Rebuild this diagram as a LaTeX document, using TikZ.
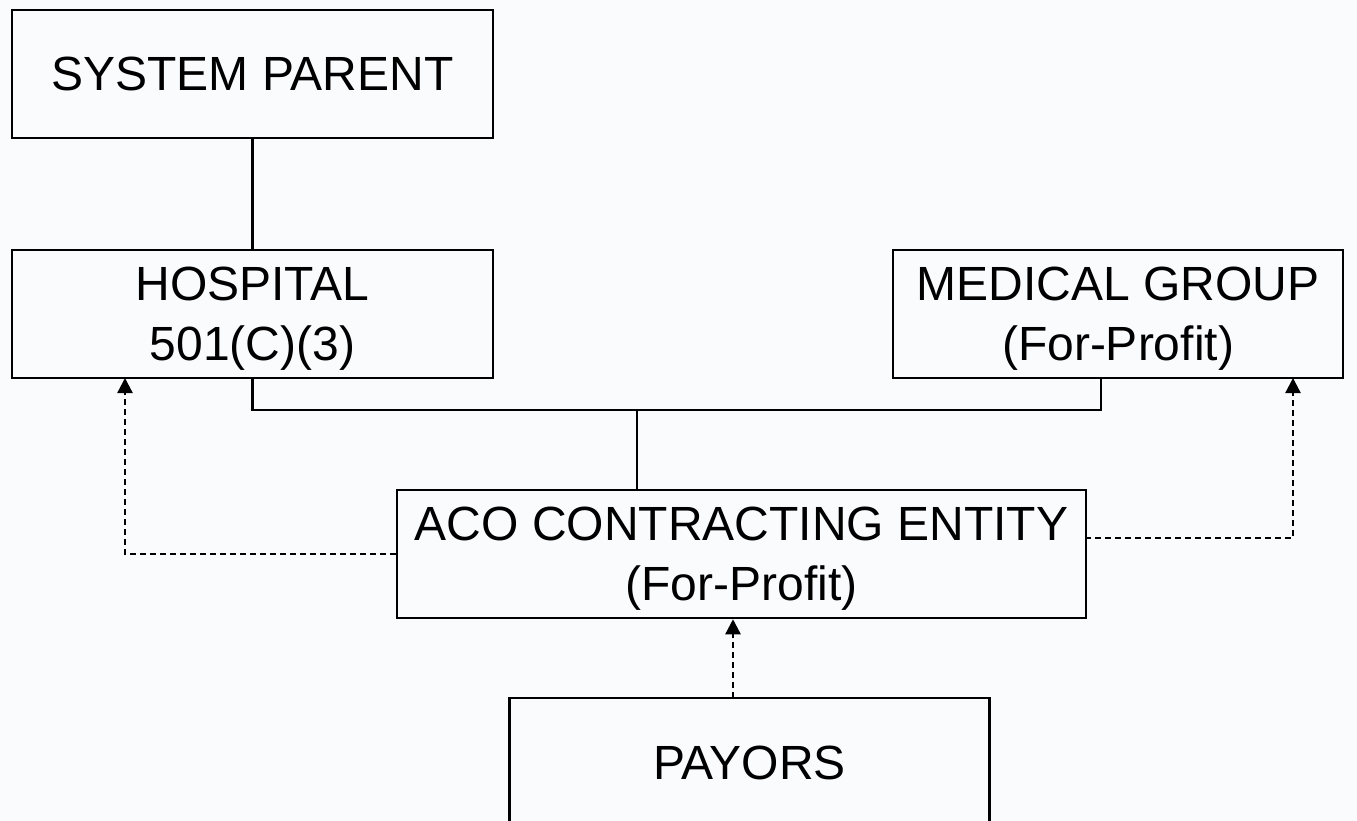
\documentclass[tikz,border=0pt]{standalone}
\usepackage{fontspec}
\setmainfont{Liberation Sans}
\usetikzlibrary{arrows.meta,calc}
\definecolor{bg}{RGB}{250,251,253}
\begin{document}
\begin{tikzpicture}[x=1pt,y=-1pt,
  box/.style={draw,line width=2.5pt,inner sep=0pt,align=center,
    font=\fontsize{48}{60}\selectfont},
  twoline/.style={text depth=0pt},
  solidline/.style={line width=2.5pt},
  dashline/.style={line width=2.3pt,dash pattern=on 6pt off 4pt,
    -{Triangle[length=15pt,width=15pt]}}]
\fill[bg] (0,0) rectangle (1357,821);
\useasboundingbox (0,0) rectangle (1357,821);
\node[box,minimum width=481pt,minimum height=128pt] (sp) at (252.5,74) {SYSTEM PARENT};
\node[box,twoline,minimum width=481pt,minimum height=128pt] (hosp) at (252.5,314) {HOSPITAL\\501(C)(3)};
\node[box,twoline,minimum width=450pt,minimum height=128pt] (med) at (1118,314) {MEDICAL GROUP\\(For-Profit)};
\node[box,twoline,minimum width=689pt,minimum height=128pt] (aco) at (741.5,554) {ACO CONTRACTING ENTITY\\(For-Profit)};
\node[box,minimum width=480pt,minimum height=130pt] (pay) at (749.5,763) {PAYORS};
\coordinate (mb) at (1101,378);
\coordinate (bus) at (637,410);
\coordinate (ha) at (125,378);
\coordinate (ma) at (1293,378);
\coordinate (ar) at (1085,538);
\coordinate (pt) at (733,698);
\draw[solidline] (sp.south) -- (hosp.north);
\draw[solidline] (hosp.south) |- (bus) -| (mb);
\draw[solidline] (bus) -- (bus |- aco.north);
\draw[dashline] (aco.west) -| (ha);
\draw[dashline] (ar) -| (ma);
\draw[dashline] (pt) -- (pt |- aco.south);
\end{tikzpicture}
\end{document}
